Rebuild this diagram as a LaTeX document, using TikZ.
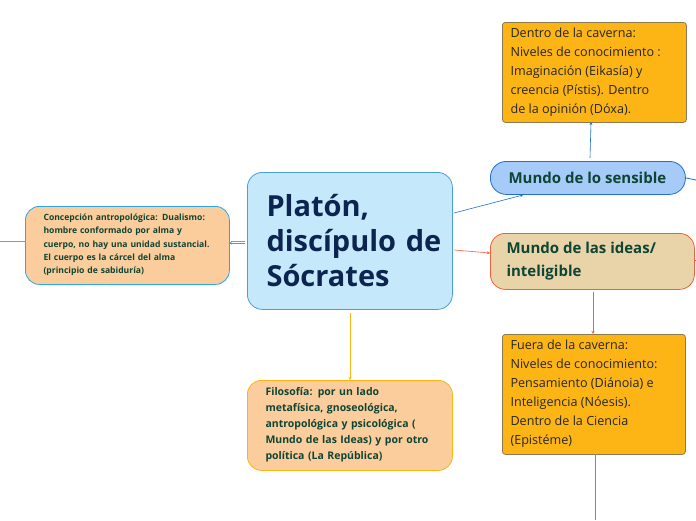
\documentclass[tikz,border=0pt]{standalone}
\usepackage{fontspec}
\setmainfont{Open Sans}
\usetikzlibrary{arrows.meta}
\definecolor{cblue}{HTML}{C5E9FB}
\definecolor{cbord}{HTML}{4A9FD8}
\definecolor{peach}{HTML}{FCCD9C}
\definecolor{lblue}{HTML}{2BA9E0}
\definecolor{orng}{HTML}{FDB515}
\definecolor{sens}{HTML}{A6CBF9}
\definecolor{sensb}{HTML}{1F6FD0}
\definecolor{idea}{HTML}{E8D4A8}
\definecolor{redl}{HTML}{F0603C}
\definecolor{navy}{HTML}{0D2451}
\definecolor{dgreen}{HTML}{0E4434}
\definecolor{grn}{HTML}{7CB342}
\definecolor{brn}{HTML}{8C7A50}
\tikzset{
 box/.style={draw,line width=0.8pt,inner sep=0pt,anchor=north west},
 arr/.style={-{Stealth[length=3pt,width=3pt]},line width=0.6pt},
}
\begin{document}
\begin{tikzpicture}[x=1pt,y=-1pt]
\useasboundingbox[fill=white] (0,0) rectangle (696,520);
\node[box,fill=cblue,draw=cbord,rounded corners=15pt,minimum width=205pt,minimum height=137pt] (c) at (247,172) {};
\node[anchor=west,align=left,text=navy,font=\fontsize{29}{35}\selectfont\bfseries,text width=190pt] at (263,240.5) {Platón,\\discípulo de\\Sócrates};
\node[box,fill=peach,draw=lblue,rounded corners=14pt,minimum width=204pt,minimum height=78pt] (l) at (25,206) {};
\node[anchor=west,align=left,text=dgreen,font=\fontsize{8.6}{13.3}\selectfont\bfseries,text width=200pt] at (40,245) {Concepción antropológica: Dualismo:\\hombre conformado por alma y\\cuerpo, no hay una unidad sustancial.\\El cuerpo es la cárcel del alma\\(principio de sabiduría)};
\node[box,fill=peach,draw=orng,rounded corners=14pt,minimum width=205pt,minimum height=90pt] (b) at (247,380) {};
\node[anchor=west,align=left,text=dgreen,font=\fontsize{10.5}{16}\selectfont\bfseries,text width=200pt] at (262,425) {Filosofía: por un lado\\metafísica, gnoseológica,\\antropológica y psicológica (\\Mundo de las Ideas) y por otro\\política (La República)};
\node[box,fill=sens,draw=sensb,rounded corners=16pt,minimum width=195pt,minimum height=33pt] (s) at (490,161) {};
\node[anchor=west,text=dgreen,font=\fontsize{15}{18}\selectfont\bfseries] at (505,177.5) {Mundo de lo sensible};
\node[box,fill=idea,draw=redl,rounded corners=15pt,minimum width=204pt,minimum height=56pt] (i) at (490,233) {};
\node[anchor=west,align=left,text=dgreen,font=\fontsize{15}{23}\selectfont\bfseries] at (503,261) {Mundo de las ideas/\\inteligible};
\node[box,fill=orng,draw=brn,rounded corners=3pt,minimum width=184pt,minimum height=100pt] (t) at (502,22) {};
\node[anchor=west,align=left,text=black!85,font=\fontsize{12.6}{19}\selectfont] at (507,72) {Dentro de la caverna:\\Niveles de conocimiento :\\Imaginación (Eikasía) y\\creencia (Pístis). Dentro\\de la opinión (Dóxa).};
\node[box,fill=orng,draw=brn,rounded corners=3pt,minimum width=183pt,minimum height=120pt] (f) at (502,334) {};
\node[anchor=west,align=left,text=black!85,font=\fontsize{12.6}{19}\selectfont] at (507,394) {Fuera de la caverna:\\Niveles de conocimiento:\\Pensamiento (Diánoia) e\\Inteligencia (Nóesis).\\Dentro de la Ciencia\\(Epistéme)};
\coordinate (e1) at (0,241); \coordinate (e2) at (696,180);
\coordinate (e3) at (696,260); \coordinate (e4) at (595,520);
\draw[grn,line width=0.6pt] (e1) -- (25,241);
\draw[sensb,line width=0.8pt] (s.east) -- (e2);
\draw[redl,line width=0.6pt] (694,260) -- (e3);
\draw[redl,line width=0.6pt] (595,454) -- (e4);
\draw[arr,sensb] (454,213) -- (523,195);
\draw[arr,redl] (454,250) -- (490,253);
\draw[arr,orng] (350,313) -- (350,380);
\draw[grn,line width=0.6pt] (245,241) -- (231,241);
\draw[arr,lblue] (245,243) -- (229,243);
\draw[arr,sensb] (590,158) -- (591,122);
\draw[arr,redl] (593,292) -- (593,334);
\end{tikzpicture}
\end{document}
